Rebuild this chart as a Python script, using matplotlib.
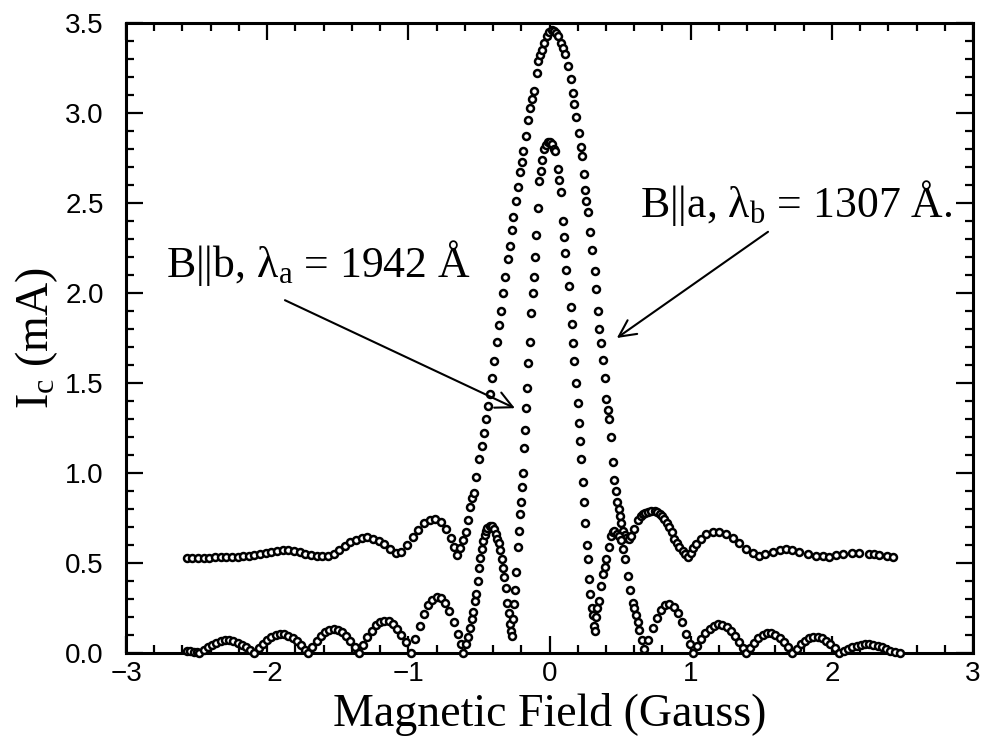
import matplotlib
matplotlib.use('Agg')
import matplotlib.pyplot as plt
from matplotlib.ticker import MultipleLocator, FixedLocator

# ---------------- data ----------------
# B||a  (tall central peak, side lobes on an offset baseline)
field_a = [-2.57, -2.53, -2.49, -2.45, -2.41, -2.37, -2.33, -2.29, -2.25, -2.21,
           -2.17, -2.13, -2.09, -2.05, -2.01, -1.97, -1.93, -1.89, -1.85, -1.81,
           -1.77, -1.73, -1.69, -1.65, -1.61, -1.57, -1.53, -1.49, -1.45, -1.41,
           -1.37, -1.33, -1.29, -1.25, -1.21, -1.17, -1.13, -1.09, -1.05, -1.01,
           -0.97, -0.93, -0.89, -0.85, -0.81, -0.77, -0.73, -0.70, -0.675, -0.655,
           -0.635, -0.614, -0.595, -0.579, -0.562, -0.548, -0.538, -0.519, -0.50, -0.479,
           -0.467, -0.453, -0.437, -0.425, -0.409, -0.390, -0.373, -0.361, -0.342, -0.326,
           -0.312, -0.295, -0.279, -0.265, -0.256, -0.237, -0.221, -0.209, -0.196, -0.186,
           -0.167, -0.151, -0.139, -0.122, -0.108, -0.092, -0.080, -0.065, -0.056, -0.040,
           -0.020, -0.005, 0.015, 0.030, 0.045, 0.062, 0.083, 0.097, 0.110, 0.130,
           0.154, 0.165, 0.177, 0.189, 0.208, 0.225, 0.232, 0.241, 0.253, 0.262,
           0.271, 0.288, 0.302, 0.319, 0.331, 0.342, 0.354, 0.366, 0.382, 0.390,
           0.400, 0.413, 0.425, 0.437, 0.448, 0.460, 0.470, 0.480, 0.490, 0.500,
           0.510, 0.520, 0.532, 0.543, 0.560, 0.579, 0.600, 0.626, 0.645, 0.661,
           0.680, 0.700, 0.722, 0.744, 0.762, 0.780, 0.797, 0.814, 0.832, 0.850,
           0.868, 0.885, 0.903, 0.920, 0.944, 0.962, 0.980, 1.000, 1.020, 1.039,
           1.070, 1.110, 1.160, 1.204, 1.250, 1.298, 1.345, 1.393, 1.440, 1.487,
           1.530, 1.581, 1.630, 1.676, 1.720, 1.770, 1.830, 1.890, 1.940, 1.983,
           2.030, 2.077, 2.140, 2.195, 2.260, 2.300, 2.337, 2.390, 2.430]
ic_a = [0.53, 0.53, 0.53, 0.53, 0.53, 0.532, 0.532, 0.533, 0.535, 0.535,
        0.537, 0.54, 0.544, 0.549, 0.556, 0.563, 0.567, 0.57, 0.571, 0.568,
        0.56, 0.552, 0.544, 0.539, 0.538, 0.541, 0.55, 0.572, 0.597, 0.616,
        0.63, 0.64, 0.643, 0.634, 0.624, 0.603, 0.578, 0.555, 0.56, 0.60,
        0.645, 0.685, 0.72, 0.74, 0.742, 0.729, 0.69, 0.64, 0.59, 0.545,
        0.585, 0.63, 0.67, 0.74, 0.81, 0.86, 0.89, 0.98, 1.08, 1.15,
        1.22, 1.30, 1.37, 1.44, 1.53, 1.62, 1.73, 1.82, 1.90, 2.00,
        2.09, 2.19, 2.26, 2.35, 2.42, 2.51, 2.59, 2.67, 2.73, 2.79,
        2.87, 2.96, 3.03, 3.08, 3.12, 3.22, 3.29, 3.32, 3.35, 3.39,
        3.43, 3.45, 3.46, 3.455, 3.445, 3.43, 3.39, 3.36, 3.33, 3.26,
        3.19, 3.11, 3.05, 2.98, 2.89, 2.81, 2.76, 2.66, 2.57, 2.51,
        2.45, 2.34, 2.24, 2.12, 2.02, 1.90, 1.80, 1.72, 1.63, 1.53,
        1.41, 1.35, 1.30, 1.20, 1.06, 0.96, 0.90, 0.84, 0.80, 0.76,
        0.72, 0.68, 0.655, 0.64, 0.635, 0.65, 0.69, 0.74, 0.76, 0.77,
        0.78, 0.785, 0.79, 0.79, 0.785, 0.775, 0.76, 0.745, 0.725, 0.70,
        0.67, 0.635, 0.61, 0.59, 0.565, 0.548, 0.535, 0.555, 0.585, 0.605,
        0.635, 0.66, 0.67, 0.67, 0.66, 0.64, 0.61, 0.58, 0.555, 0.54,
        0.55, 0.56, 0.572, 0.58, 0.572, 0.56, 0.55, 0.54, 0.537, 0.535,
        0.542, 0.55, 0.553, 0.555, 0.55, 0.548, 0.545, 0.54, 0.535]

# B||b  (narrower central peak, side lobes going to zero)
field_b = [-2.57, -2.545, -2.52, -2.50,
           -2.48, -2.45, -2.42, -2.39, -2.36, -2.33, -2.30, -2.27, -2.24, -2.21, -2.18, -2.15, -2.12, -2.09,
           -2.06, -2.03, -2.00, -1.97, -1.94, -1.91, -1.88, -1.85, -1.82, -1.79, -1.76, -1.73, -1.71,
           -1.68, -1.65, -1.62, -1.59, -1.56, -1.53, -1.50, -1.47, -1.44, -1.41, -1.38, -1.35,
           -1.32, -1.29, -1.26, -1.23, -1.20, -1.17, -1.14, -1.11, -1.08, -1.05, -1.02, -0.98,
           -0.95, -0.92, -0.89, -0.86, -0.83, -0.80, -0.77, -0.74, -0.71, -0.68, -0.65, -0.63, -0.61,
           -0.595, -0.58, -0.565, -0.55, -0.54, -0.53, -0.52, -0.51, -0.50, -0.49, -0.48, -0.47,
           -0.46, -0.45, -0.44, -0.425, -0.41, -0.395, -0.38, -0.37, -0.36, -0.35, -0.34, -0.33,
           -0.32, -0.31, -0.30, -0.29, -0.28, -0.27, -0.265,
           -0.26, -0.252, -0.243, -0.235, -0.224, -0.215, -0.208, -0.201, -0.195, -0.188,
           -0.182, -0.174, -0.165, -0.157, -0.149, -0.14, -0.13, -0.12, -0.111, -0.10,
           -0.093, -0.083, -0.071, -0.062, -0.054, -0.04, -0.024, -0.01, 0.0, 0.015,
           0.03, 0.042, 0.059, 0.07, 0.083, 0.094, 0.103, 0.111, 0.12, 0.135,
           0.15, 0.161, 0.17, 0.177, 0.19, 0.201, 0.21, 0.217, 0.225, 0.236,
           0.245, 0.255, 0.264, 0.271, 0.28, 0.288, 0.298, 0.307, 0.313, 0.319,
           0.33, 0.34, 0.35, 0.366, 0.382, 0.39, 0.40, 0.42, 0.437, 0.45, 0.46, 0.48, 0.495,
           0.51, 0.524, 0.538, 0.555, 0.571, 0.59, 0.60, 0.614, 0.625, 0.637, 0.655, 0.67,
           0.70, 0.73, 0.76, 0.79, 0.82, 0.85, 0.88, 0.91, 0.94, 0.97, 0.995, 1.015,
           1.045, 1.075, 1.105, 1.135, 1.165, 1.195, 1.225, 1.255, 1.285, 1.315, 1.345, 1.37, 1.393,
           1.42, 1.45, 1.48, 1.51, 1.54, 1.57, 1.60, 1.63, 1.66, 1.69, 1.72,
           1.75, 1.78, 1.81, 1.84, 1.87, 1.90, 1.93, 1.96, 1.99, 2.02, 2.054,
           2.085, 2.115, 2.145, 2.175, 2.205, 2.235, 2.265, 2.295, 2.325, 2.355, 2.385, 2.415, 2.45, 2.48]
ic_b = [0.01, 0.01, 0.005, 0.003,
        0.0, 0.017, 0.033, 0.046, 0.058, 0.065, 0.07, 0.07, 0.065, 0.058, 0.046, 0.033, 0.017, 0.0,
        0.026, 0.05, 0.071, 0.088, 0.099, 0.105, 0.104, 0.096, 0.083, 0.064, 0.042, 0.017, 0.0,
        0.035, 0.068, 0.095, 0.117, 0.130, 0.135, 0.130, 0.117, 0.095, 0.068, 0.035, 0.0,
        0.045, 0.088, 0.125, 0.153, 0.172, 0.18, 0.176, 0.161, 0.135, 0.101, 0.06, 0.0,
        0.078, 0.151, 0.215, 0.264, 0.296, 0.31, 0.303, 0.277, 0.233, 0.174, 0.104, 0.05, 0.0,
        0.05, 0.09, 0.14, 0.19, 0.23, 0.29, 0.33, 0.40, 0.47, 0.53, 0.58, 0.62,
        0.655, 0.68, 0.695, 0.705, 0.705, 0.69, 0.66, 0.635, 0.61, 0.57, 0.52, 0.47,
        0.42, 0.36, 0.28, 0.22, 0.16, 0.12, 0.095,
        0.19, 0.27, 0.35, 0.45, 0.59, 0.68, 0.77, 0.84, 0.92, 1.00,
        1.14, 1.24, 1.36, 1.47, 1.61, 1.73, 1.89, 2.00, 2.09, 2.20,
        2.32, 2.47, 2.62, 2.68, 2.74, 2.80, 2.82, 2.84, 2.84, 2.83,
        2.80, 2.79, 2.69, 2.63, 2.56, 2.40, 2.31, 2.22, 2.13, 2.04,
        1.92, 1.83, 1.72, 1.62, 1.50, 1.39, 1.28, 1.18, 1.08, 0.95,
        0.84, 0.72, 0.60, 0.52, 0.41, 0.33, 0.25, 0.21, 0.15, 0.12,
        0.20, 0.25, 0.29, 0.37, 0.44, 0.48, 0.52, 0.59, 0.65, 0.67, 0.68, 0.66, 0.65,
        0.63, 0.58, 0.52, 0.43, 0.35, 0.28, 0.25, 0.21, 0.17, 0.13, 0.07, 0.02,
        0.073, 0.14, 0.197, 0.24, 0.265, 0.27, 0.254, 0.22, 0.172, 0.108, 0.05, 0.0,
        0.039, 0.077, 0.109, 0.134, 0.152, 0.16, 0.158, 0.146, 0.125, 0.096, 0.062, 0.03, 0.0,
        0.028, 0.057, 0.081, 0.099, 0.109, 0.109, 0.10, 0.084, 0.06, 0.031, 0.0,
        0.025, 0.048, 0.068, 0.081, 0.089, 0.089, 0.083, 0.069, 0.051, 0.028, 0.0,
        0.012, 0.023, 0.033, 0.041, 0.047, 0.05, 0.05, 0.047, 0.041, 0.033, 0.023, 0.012, 0.003, 0.0]

x_ticks = [-3, -2, -1, 0, 1, 2, 3]
x_tick_labels = ['\u22123', '\u22122', '\u22121', '0', '1', '2', '3']
y_ticks = [0.0, 0.5, 1.0, 1.5, 2.0, 2.5, 3.0, 3.5]
y_tick_labels = ['0.0', '0.5', '1.0', '1.5', '2.0', '2.5', '3.0', '3.5']

label_b = 'B||b, \u03bb$_{\\rm a}$ = 1942 \u00c5'
label_a = 'B||a, \u03bb$_{\\rm b}$ = 1307 \u00c5.'

# ---------------- figure ----------------
plt.rcParams['mathtext.fontset'] = 'custom'
plt.rcParams['mathtext.rm'] = 'Liberation Serif'
plt.rcParams['mathtext.it'] = 'Liberation Serif'
plt.rcParams['mathtext.default'] = 'regular'

SERIF = ['Liberation Serif', 'DejaVu Serif']
SANS = ['Liberation Sans', 'DejaVu Sans']

fig = plt.figure(figsize=(9.85, 7.5), dpi=100)
ax = fig.add_axes([126 / 985, 97 / 750, 847 / 985, 630 / 750])

mk = dict(linestyle='none', marker='o', markersize=5.0, markerfacecolor='white',
          markeredgecolor='black', markeredgewidth=1.8, clip_on=False, zorder=3)
ax.plot(field_a, ic_a, **mk)
ax.plot(field_b, ic_b, **mk)

ax.set_xlim(-3, 3)
ax.set_ylim(0, 3.5)

ax.xaxis.set_major_locator(FixedLocator(x_ticks))
ax.set_xticklabels(x_tick_labels, fontfamily=SANS, fontsize=20)
ax.yaxis.set_major_locator(FixedLocator(y_ticks))
ax.set_yticklabels(y_tick_labels, fontfamily=SANS, fontsize=20)
ax.xaxis.set_minor_locator(MultipleLocator(0.2))
ax.yaxis.set_minor_locator(MultipleLocator(0.1))

ax.tick_params(which='both', direction='in', top=True, right=True, width=1.6, color='black')
ax.tick_params(which='major', length=12)
ax.tick_params(which='minor', length=6)
ax.tick_params(axis='y', which='major', pad=16)
ax.tick_params(axis='x', which='major', pad=6)

for sp in ax.spines.values():
    sp.set_linewidth(2.2)

ax.set_xlabel('Magnetic Field (Gauss)', fontfamily=SERIF, fontsize=33, labelpad=4)
ax.set_ylabel('I$_{\\rm c}$ (mA)', fontfamily=SERIF, fontsize=33, labelpad=4)

ax.text(-2.72, 2.09, label_b, fontfamily=SERIF, fontsize=31.5, ha='left', va='baseline')
ax.text(0.64, 2.42, label_a, fontfamily=SERIF, fontsize=31.5, ha='left', va='baseline')

arrow = dict(arrowstyle='->', lw=1.5, color='black', mutation_scale=30, shrinkA=0, shrinkB=0)
ax.annotate('', xy=(-0.245, 1.36), xytext=(-1.874, 1.96), arrowprops=arrow)
ax.annotate('', xy=(0.477, 1.75), xytext=(1.548, 2.34), arrowprops=arrow)

fig.savefig('out.png', dpi=100)
